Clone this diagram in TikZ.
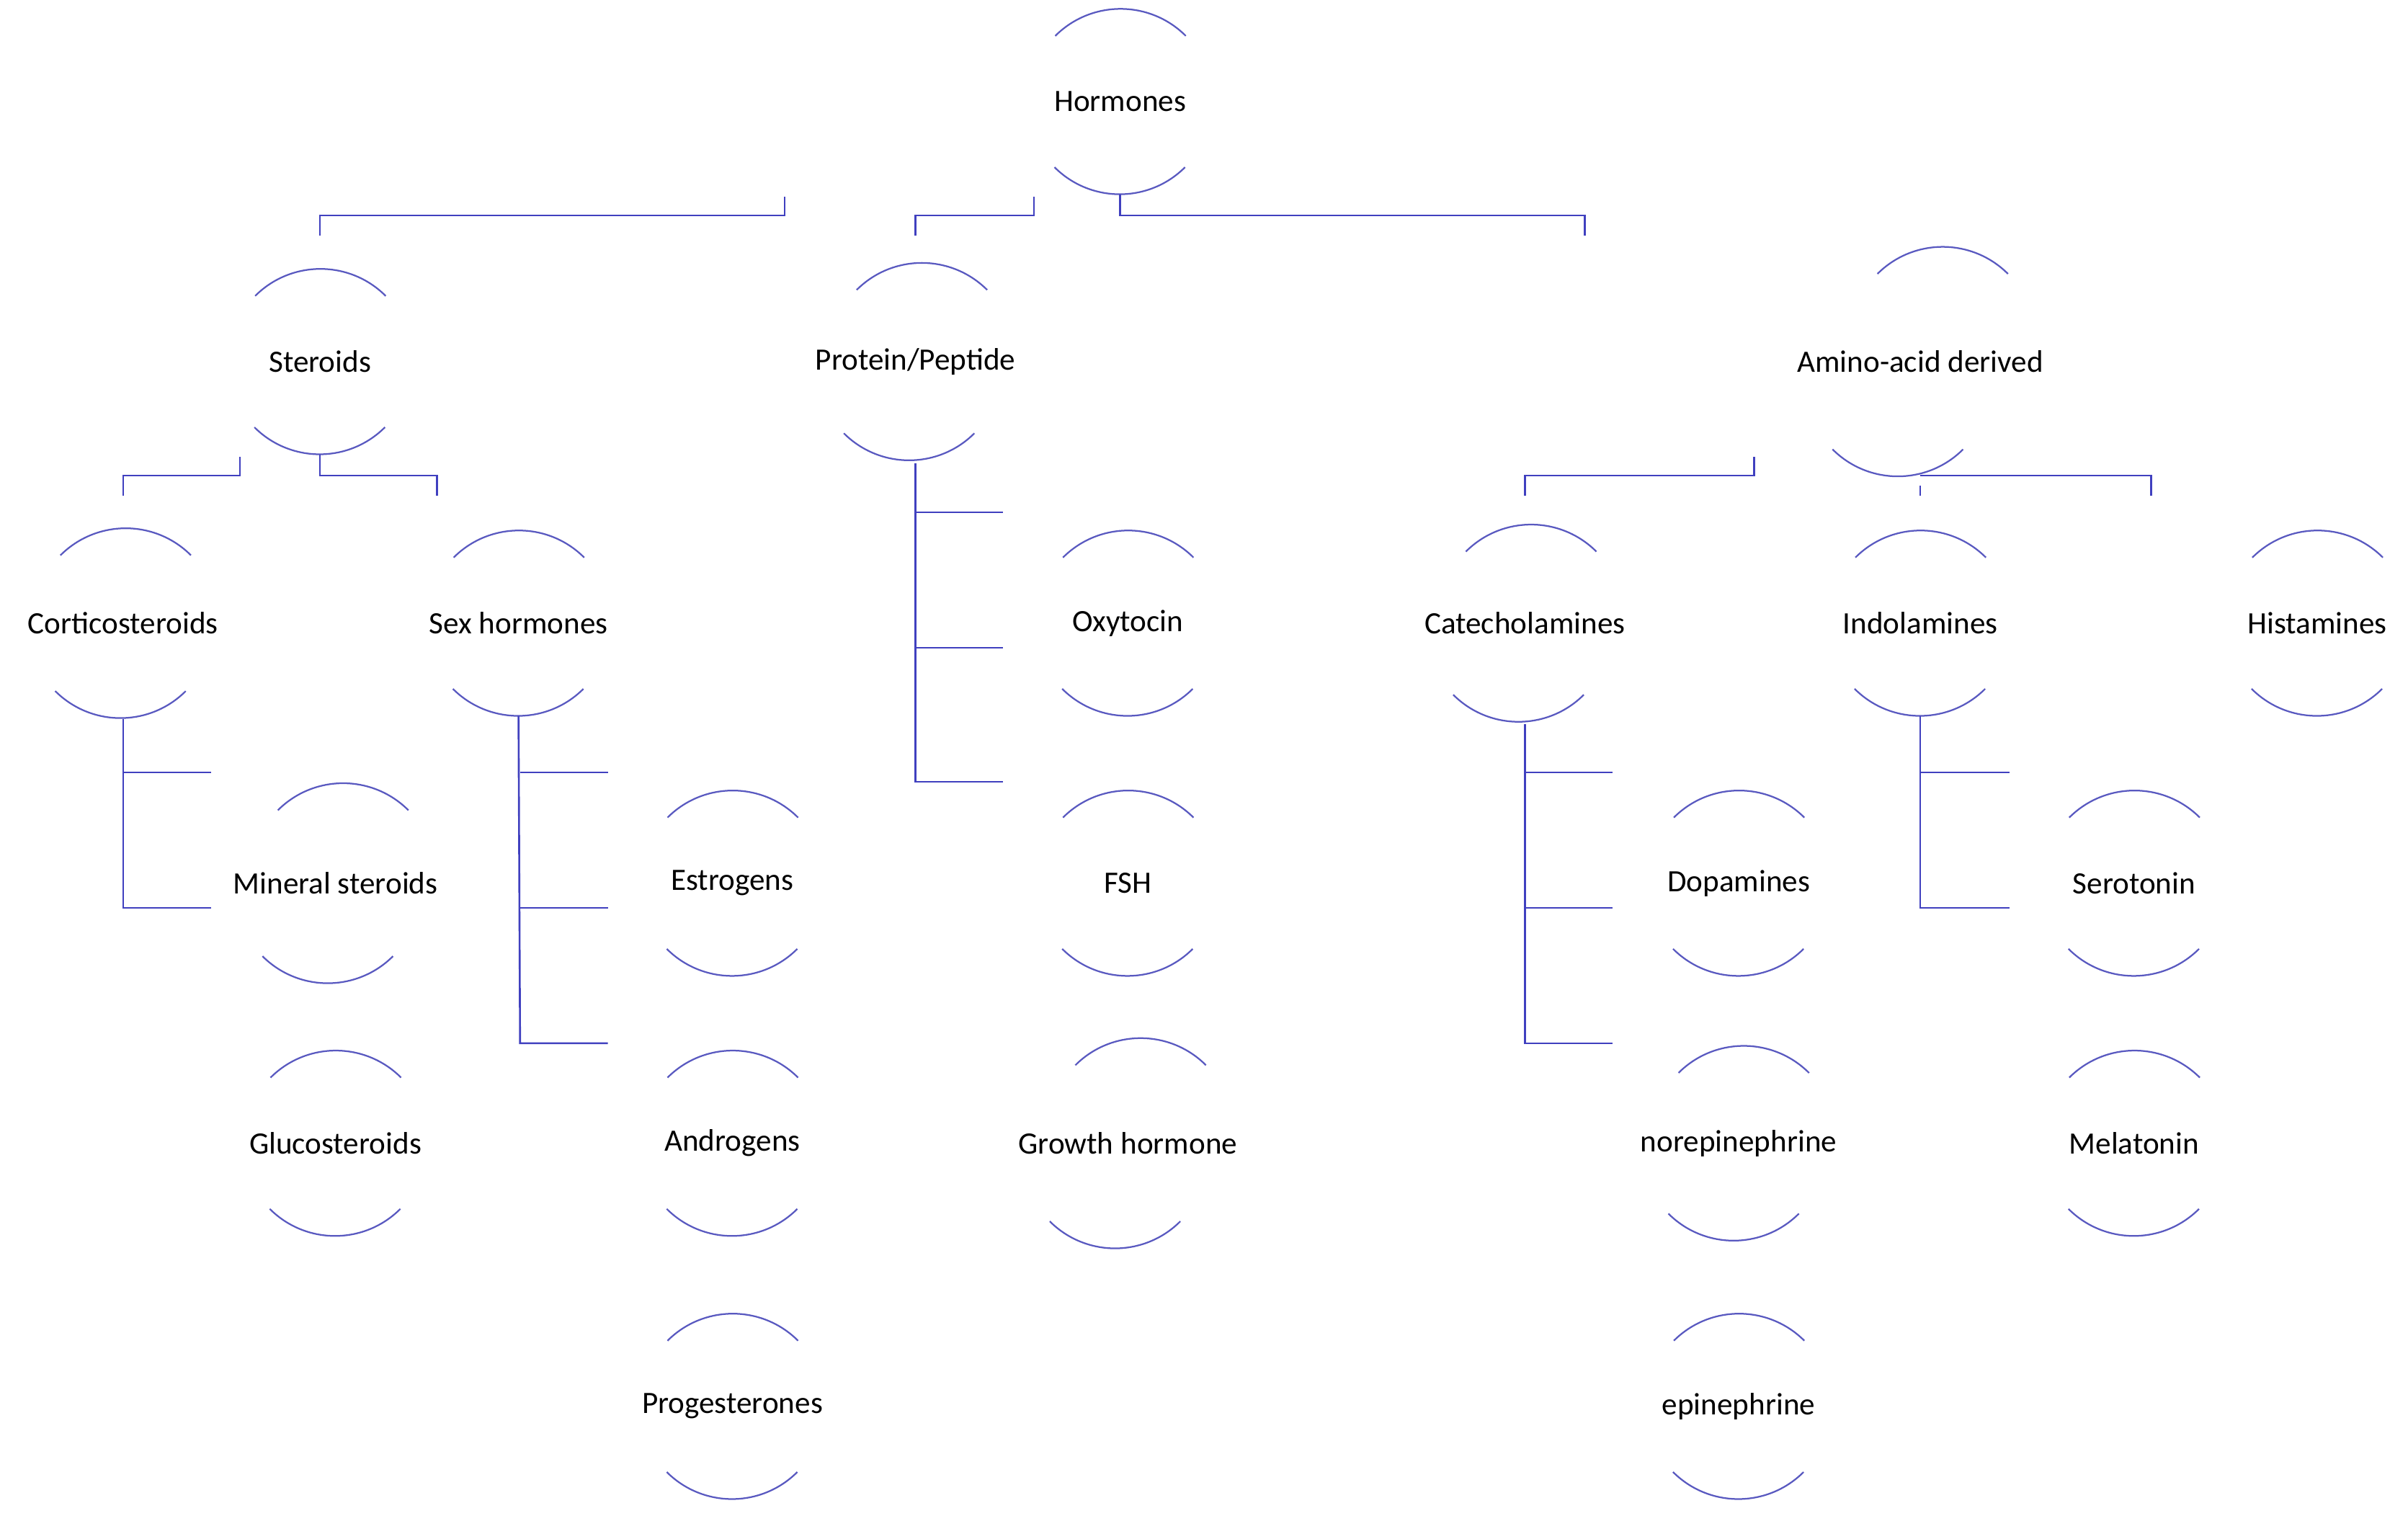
\documentclass[tikz,border=0pt]{standalone}
\usepackage{fontspec}
\setmainfont{Carlito}
\begin{document}
\begin{tikzpicture}[x=0.02cm,y=-0.02cm,
    hnode/.style={circle,minimum size=2.4cm,inner sep=0pt,font=\fontsize{11.5}{14}\selectfont},
    arcline/.style={draw=blue!45!gray!90,line width=0.6pt},
    link/.style={draw=blue!50!gray,line width=0.7pt}]
\useasboundingbox (0,0) rectangle (1565,985);
% levels
\node[hnode] (Hormones) at (728,66) {Hormones};
\node[hnode] (Steroids) at (208,235) {Steroids};
\node[hnode] (Protein) at (595,235) {Protein/Peptide};
\node[hnode] (Amino) at (1248,235) {Amino-acid derived};
\node[hnode] (Cortico) at (80,405) {Corticosteroids};
\node[hnode] (Sex) at (337,405) {Sex hormones};
\node[hnode] (Oxytocin) at (733,405) {Oxytocin};
\node[hnode] (Catechol) at (991,405) {Catecholamines};
\node[hnode] (Indol) at (1248,405) {Indolamines};
\node[hnode] (Histamines) at (1506,405) {Histamines};
\node[hnode] (Mineral) at (218,574) {Mineral steroids};
\node[hnode] (Estrogens) at (476,574) {Estrogens};
\node[hnode] (FSH) at (733,574) {FSH};
\node[hnode] (Dopamines) at (1130,574) {Dopamines};
\node[hnode] (Serotonin) at (1387,574) {Serotonin};
\node[hnode] (Gluco) at (218,743) {Glucosteroids};
\node[hnode] (Androgens) at (476,743) {Androgens};
\node[hnode] (Growth) at (733,743) {Growth hormone};
\node[hnode] (Norepi) at (1130,743) {norepinephrine};
\node[hnode] (Melatonin) at (1387,743) {Melatonin};
\node[hnode] (Progest) at (476,914) {Progesterones};
\node[hnode] (Epi) at (1130,914) {epinephrine};

\foreach \n in {Hormones,Steroids,Protein,Amino,Cortico,Sex,Oxytocin,Catechol,Indol,Histamines,
    Mineral,Estrogens,FSH,Dopamines,Serotonin,Gluco,Androgens,Growth,Norepi,Melatonin,Progest,Epi}{
  \draw[arcline] (\n.45) arc[start angle=45,end angle=135,radius=1.2cm];
  \draw[arcline] (\n.225) arc[start angle=225,end angle=315,radius=1.2cm];
}

% connectors
\coordinate (h1) at (510,128);
\coordinate (h2) at (672,128);
\coordinate (h3) at (1030,153);
\coordinate (s1) at (156,297);
\coordinate (s2) at (80,322);
\coordinate (s3) at (284,322);
\coordinate (a1) at (1140,297);
\coordinate (a2) at (991,322);
\coordinate (a3) at (1398,322);
\draw[link] (h1) -- (510,140) -- (208,140) -- (208,153);
\draw[link] (h2) -- (672,140) -- (595,140) -- (595,153);
\draw[link] (Hormones.south) -- (728,140) -| (h3);
\draw[link] (s1) -- (156,309) -| (s2);
\draw[link] (Steroids.south) -- (208,309) -| (s3);
\draw[link] (a1) -- (1140,309) -| (a2);
\draw[link] (Amino.south) -- (1248,322);
\draw[link] (1248,309) -| (a3);

\draw[link] (Cortico.south) -- (80,590) -- (137,590);
\draw[link] (80,502) -- (137,502);
\draw[link] (Sex.south) -- (338,678) -- (395,678);
\foreach \y in {502,590} \draw[link] (338,\y) -- (395,\y);
\draw[link] (Protein.south) -- (595,508) -- (652,508);
\foreach \y in {333,421} \draw[link] (595,\y) -- (652,\y);
\draw[link] (Catechol.south) -- (991,678) -- (1048,678);
\foreach \y in {502,590} \draw[link] (991,\y) -- (1048,\y);
\draw[link] (Indol.south) -- (1248,590) -- (1306,590);
\draw[link] (1248,502) -- (1306,502);
\end{tikzpicture}
\end{document}
